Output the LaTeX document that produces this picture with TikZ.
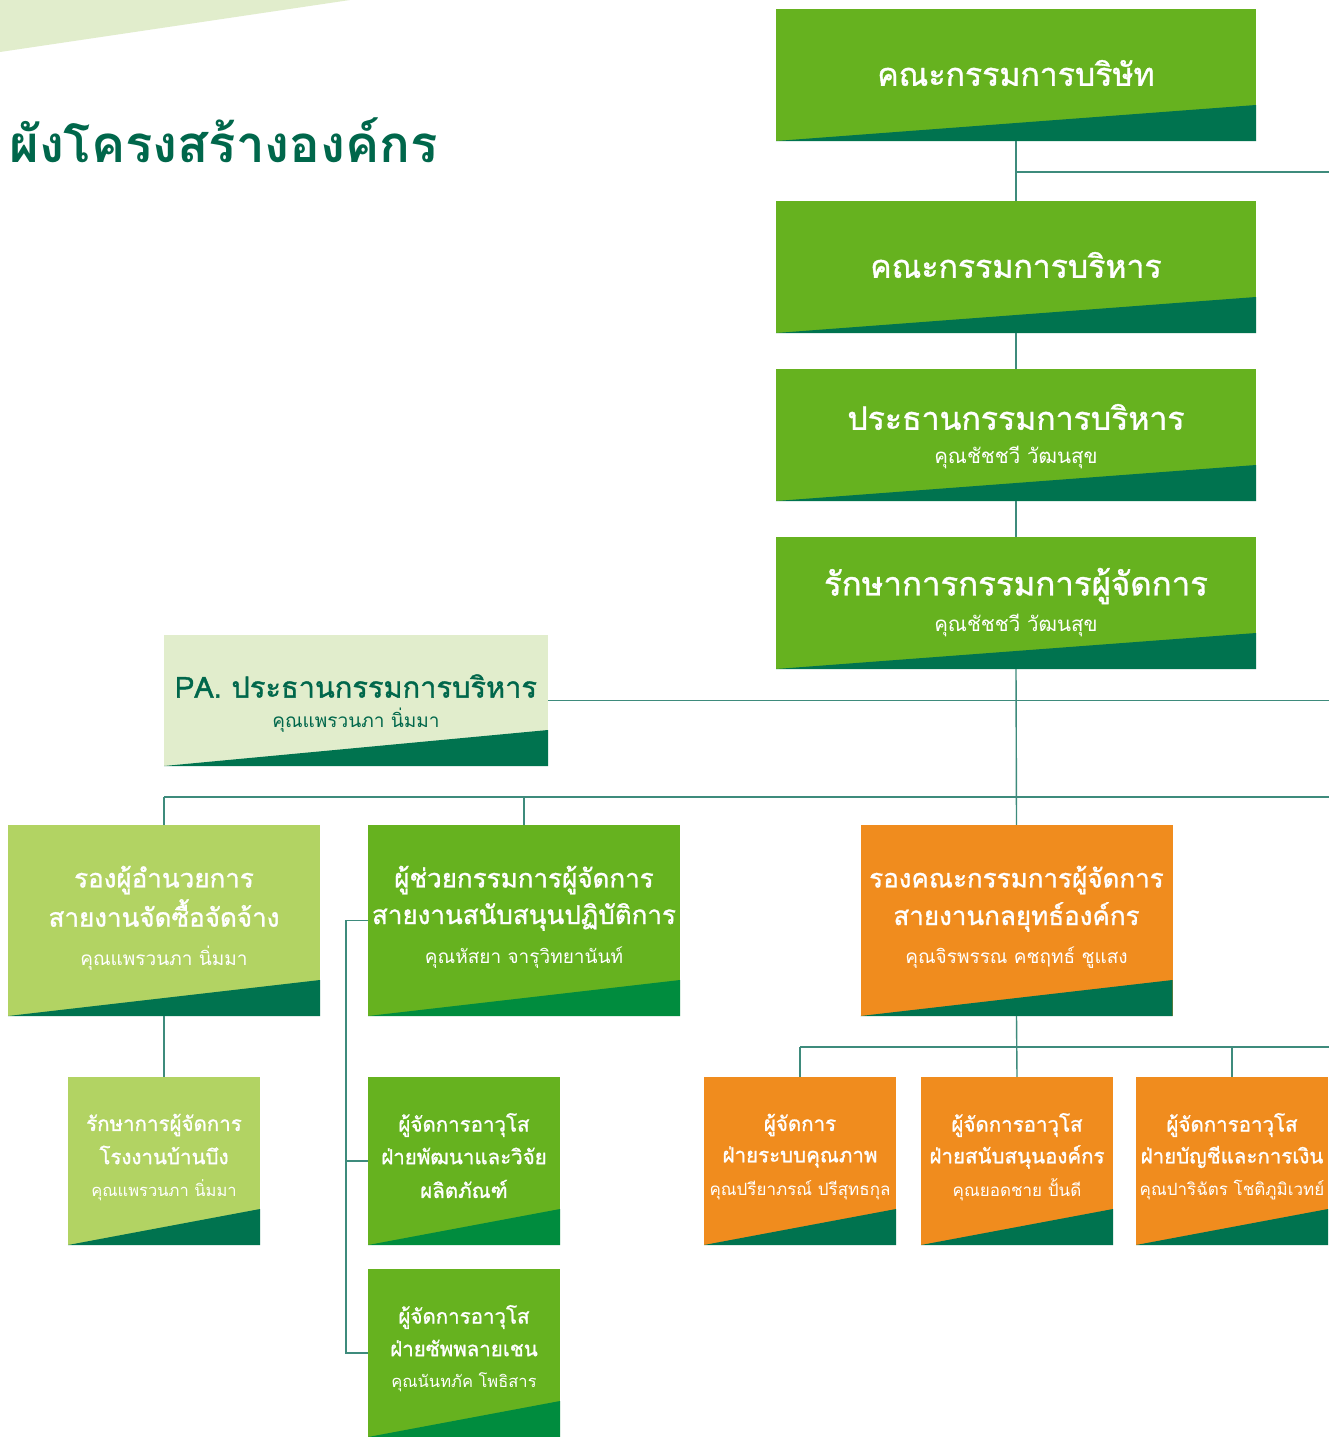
\documentclass[tikz,border=0pt]{standalone}
\usepackage{fontspec}
\newfontfamily\thai[Script=Thai]{Loma}
\newfontfamily\thaim[Script=Thai,FakeBold=1.2]{Loma}
\definecolor{lgreen}{HTML}{66B21F}
\definecolor{dgreen}{HTML}{00734F}
\definecolor{mgreen}{HTML}{008C3E}
\definecolor{pale}{HTML}{E1EDCC}
\definecolor{lime}{HTML}{B2D363}
\definecolor{orng}{HTML}{F08C1E}
\definecolor{linec}{HTML}{3E8B7C}
\definecolor{titlec}{HTML}{00674B}
\tikzset{
  orgbox/.style n args={4}{draw=none, inner sep=0pt, minimum width=#1, minimum height=#2, fill=#3,
    path picture={\fill[#4] (path picture bounding box.south west) -- (path picture bounding box.south east) -- ([yshift=36pt]path picture bounding box.south east) -- cycle;}},
  conn/.style={draw=linec, line width=1.4pt},
  ttl/.style={text=white, font=\thaim\fontsize{#1}{#1}\selectfont, inner sep=0pt},
  nm/.style={text=white, font=\thai\fontsize{#1}{#1}\selectfont, inner sep=0pt},
}
\begin{document}
\begin{tikzpicture}[x=1pt,y=-1pt]
\fill[white] (0,0) rectangle (1329,1437);
\useasboundingbox (0,0) rectangle (1329,1437);
\fill[pale] (0,0) -- (350,0) -- (0,52) -- cycle;
\node[anchor=west, text=titlec, font=\thai\bfseries\fontsize{51}{51}\selectfont, inner sep=0pt] (title) at (9,140) {ผังโครงสร้างองค์กร};

% top chain
\node[orgbox={480pt}{132pt}{lgreen}{dgreen}] (b1) at (1016,75) {};
\node[orgbox={480pt}{132pt}{lgreen}{dgreen}] (b2) at (1016,267) {};
\node[orgbox={480pt}{132pt}{lgreen}{dgreen}] (b3) at (1016,435) {};
\node[orgbox={480pt}{132pt}{lgreen}{dgreen}] (b4) at (1016,603) {};
\node[ttl=32] (t1) at (1016,73) {คณะกรรมการบริษัท};
\node[ttl=32] (t2) at (1016,265) {คณะกรรมการบริหาร};
\node[ttl=32] (t3) at (1016,417) {ประธานกรรมการบริหาร};
\node[nm=20.5] (n3) at (1016,457) {คุณชัชชวี วัฒนสุข};
\node[ttl=33] (t4) at (1016,586) {รักษาการกรรมการผู้จัดการ};
\node[nm=20.5] (n4) at (1016,625) {คุณชัชชวี วัฒนสุข};

% PA
\node[orgbox={384pt}{131pt}{pale}{dgreen}] (pa) at (356,700.5) {};
\node[ttl=29, text=titlec] (tpa) at (356,686) {PA. ประธานกรรมการบริหาร};
\node[nm=19, text=titlec] (npa) at (356,720) {คุณแพรวนภา นิ่มมา};

% row 2
\node[orgbox={312pt}{191pt}{lime}{dgreen}] (r2a) at (164,920.5) {};
\node[orgbox={312pt}{191pt}{lgreen}{mgreen}] (r2b) at (524,920.5) {};
\node[orgbox={312pt}{191pt}{orng}{dgreen}] (r2c) at (1016.5,920.5) {};
\node[ttl=26] at (164,880) {รองผู้อำนวยการ};
\node[ttl=26] at (164,913) {สายงานจัดซื้อจัดจ้าง};
\node[nm=19] at (164,958) {คุณแพรวนภา นิ่มมา};
\node[ttl=26] at (524,880) {ผู้ช่วยกรรมการผู้จัดการ};
\node[ttl=26] at (524,917) {สายงานสนับสนุนปฏิบัติการ};
\node[nm=19] at (524,958) {คุณหัสยา จารุวิทยานันท์};
\node[ttl=26] at (1016.5,880) {รองคณะกรรมการผู้จัดการ};
\node[ttl=26] at (1016.5,917) {สายงานกลยุทธ์องค์กร};
\node[nm=19] at (1016.5,958) {คุณจิรพรรณ คชฤทธ์ ชูแสง};

% row 3
\node[orgbox={192pt}{168pt}{lime}{dgreen}] (r3a) at (164,1161) {};
\node[orgbox={192pt}{168pt}{lgreen}{mgreen}] (r3b) at (464,1161) {};
\node[orgbox={192pt}{168pt}{lgreen}{mgreen}] (r4b) at (464,1353) {};
\node[orgbox={192pt}{168pt}{orng}{dgreen}] (o1) at (800,1161) {};
\node[orgbox={192pt}{168pt}{orng}{dgreen}] (o2) at (1017,1161) {};
\node[orgbox={192pt}{168pt}{orng}{dgreen}] (o3) at (1232,1161) {};

\node[ttl=20.5] at (164,1125) {รักษาการผู้จัดการ};
\node[ttl=20.5] at (164,1155) {โรงงานบ้านบึง};
\node[nm=16.5] at (164,1190) {คุณแพรวนภา นิ่มมา};
\node[ttl=20.5] at (464,1125) {ผู้จัดการอาวุโส};
\node[ttl=20.5] at (464,1156) {ฝ่ายพัฒนาและวิจัย};
\node[ttl=20.5] at (464,1189) {ผลิตภัณฑ์};
\node[ttl=20.5] at (464,1317) {ผู้จัดการอาวุโส};
\node[ttl=20.5] at (464,1348) {ฝ่ายซัพพลายเชน};
\node[nm=16.5] at (464,1382) {คุณนันทภัค โพธิสาร};
\node[ttl=20.5] at (800,1125) {ผู้จัดการ};
\node[ttl=20.5] at (800,1157) {ฝ่ายระบบคุณภาพ};
\node[nm=17] at (800,1190) {คุณปรียาภรณ์ ปรีสุทธกุล};
\node[ttl=20.5] at (1017,1125) {ผู้จัดการอาวุโส};
\node[ttl=20.5] at (1017,1157) {ฝ่ายสนับสนุนองค์กร};
\node[nm=17] at (1017,1190) {คุณยอดชาย ปั้นดี};
\node[ttl=20.5] at (1232,1125) {ผู้จัดการอาวุโส};
\node[ttl=20.5] at (1232,1157) {ฝ่ายบัญชีและการเงิน};
\node[nm=17] at (1232,1190) {คุณปาริฉัตร โชติภูมิเวทย์};

% connectors
\coordinate (e1) at (1329,172);
\coordinate (e2) at (1329,700.5);
\coordinate (e3) at (1329,797);
\coordinate (e4) at (1329,1047);
\coordinate (bx) at (346,0);
\draw[conn] (b1.south) -- (b2.north);
\draw[conn] (b1.south |- e1) -- (e1);
\draw[conn] (b2.south) -- (b3.north);
\draw[conn] (b3.south) -- (b4.north);
\draw[conn] (b4.south) -- (r2c.north);
\draw[conn] (pa.east) -- (e2);
\draw[conn] (r2a.north |- e3) -- (e3);
\draw[conn] (r2a.north |- e3) -- (r2a.north);
\draw[conn] (r2b.north |- e3) -- (r2b.north);
\draw[conn] (r2a.south) -- (r3a.north);
\draw[conn] (r2b.west) -- (bx |- r2b.west) -- (bx |- r4b.west) -- (r4b.west);
\draw[conn] (bx |- r3b.west) -- (r3b.west);
\draw[conn] (r2c.south) -- (o2.north);
\draw[conn] (o1.north |- e4) -- (e4);
\draw[conn] (o1.north |- e4) -- (o1.north);
\draw[conn] (o3.north |- e4) -- (o3.north);
\end{tikzpicture}
\end{document}
